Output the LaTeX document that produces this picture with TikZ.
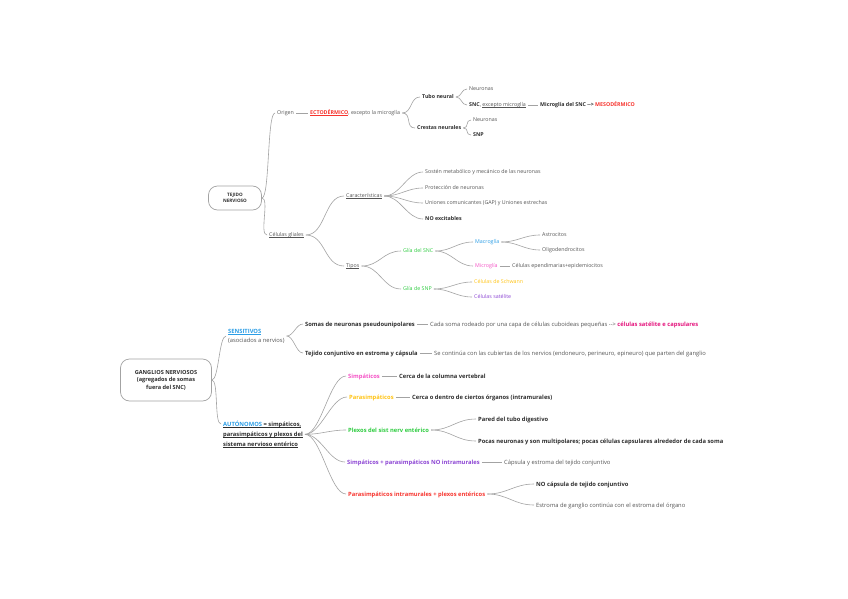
\documentclass[tikz,border=0pt]{standalone}
\usepackage{fontspec}
\setmainfont{Open Sans}
\usetikzlibrary{positioning}
\definecolor{Muted}{HTML}{A3A3A3}
\definecolor{Ink}{HTML}{2E2E2E}
\definecolor{Soft}{HTML}{555555}
\definecolor{Red}{HTML}{F7352F}
\definecolor{Blue}{HTML}{2A9DE6}
\definecolor{Pink}{HTML}{F552C6}
\definecolor{Yellow}{HTML}{FFC414}
\definecolor{Green}{HTML}{2ECC40}
\definecolor{Purple}{HTML}{8C45D4}
\definecolor{Magenta}{HTML}{E5177E}
\newcommand{\lined}[1]{\leavevmode\setbox0\hbox{#1}\rlap{\rule[-0.9pt]{\wd0}{0.35pt}}\box0}

\begin{document}
\begin{tikzpicture}[
  x=1pt,y=-1pt,
  root/.style={draw=Muted,line width=0.7pt,rounded corners=9pt,align=center,text=Ink,font=\bfseries\fontsize{4.6}{6}\selectfont},
  item/.style={anchor=west,inner sep=2pt,text height=4pt,text depth=0.3pt,text=Soft,font=\fontsize{5.3}{6}\selectfont},
  itemb/.style={item,text=Ink,font=\bfseries\fontsize{5.3}{6}\selectfont},
  big/.style={anchor=west,inner sep=2pt,text height=4.3pt,text depth=0.3pt,text=Soft,font=\fontsize{5.8}{9}\selectfont},
  bigb/.style={big,text=Ink,font=\bfseries\fontsize{5.8}{10}\selectfont},
  link/.style={draw=Muted,line width=0.6pt},
  fan/.style={link,out=0,in=180,distance=#1},
  fan/.default=10pt
]
\fill[white] (0,0) rectangle (848,599);

% tejido nervioso
\node[root,minimum width=53,minimum height=24] (tejido) at (235,198) {TEJIDO\\NERVIOSO};
\node[item] (origen) at (275,113) {Origen};
\node[item] (ecto) at (308,113) {\textcolor{Red}{\bfseries\lined{ECTODÉRMICO}}, excepto la microglía};
\node[itemb] (tubo) at (420,97) {Tubo neural};
\node[itemb] (crestas) at (415,128) {Crestas neurales};
\node[item] (neur1) at (467,89) {Neuronas};
\node[item] (snc) at (467,105) {{\bfseries\color{Ink}SNC}, \lined{excepto microglía}};
\node[itemb] (meso) at (538,105) {Microglía del SNC {-}{-}> \textcolor{Red}{MESODÉRMICO}};
\node[item] (neur2) at (471,120) {Neuronas};
\node[itemb] (snp) at (471,135) {SNP};

\node[item] (gliales) at (267,235) {\lined{Células gliales}};
\node[item] (caract) at (344,196) {\lined{Características}};
\node[item] (tipos) at (344,266) {\lined{Tipos}};
\node[item] (sosten) at (423,172) {Sostén metabólico y mecánico de las neuronas};
\node[item] (protec) at (423,188) {Protección de neuronas};
\node[item] (uniones) at (423,203) {Uniones comunicantes (GAP) y Uniones estrechas};
\node[itemb] (noexc) at (423,219) {NO excitables};
\node[item,text=Green] (gliasnc) at (401,251) {Glía del SNC};
\node[item,text=Green] (gliasnp) at (401,289) {Glía de SNP};
\node[item,text=Blue] (macro) at (473,242) {Macroglía};
\node[item,text=Pink] (micro) at (473,266) {Microglía};
\node[item] (astro) at (540,235) {Astrocitos};
\node[item] (oligo) at (540,250) {Oligodendrocitos};
\node[item] (epend) at (510,266) {Células ependimarias+epidemiocitos};
\node[item,text=Yellow] (schwann) at (472,282) {Células de Schwann};
\node[item,text=Purple] (satel) at (472,297) {Células satélite};

\draw[fan=8pt] (tejido.east) to (origen.west);
\draw[fan=8pt] (tejido.east) to (gliales.west);
\draw[link] (origen) -- (ecto);
\draw[fan] (ecto.east) to (tubo.west);
\draw[fan] (ecto.east) to (crestas.west);
\draw[fan=6pt] (tubo.east) to (neur1.west);
\draw[fan=6pt] (tubo.east) to (snc.west);
\draw[link] (snc) -- (meso);
\draw[fan=6pt] (crestas.east) to (neur2.west);
\draw[fan=6pt] (crestas.east) to (snp.west);
\draw[fan=20pt] (gliales.east) to (caract.west);
\draw[fan=20pt] (gliales.east) to (tipos.west);
\foreach \leaf in {sosten,protec,uniones,noexc}
  \draw[fan=16pt] (caract.east) to (\leaf.west);
\draw[fan=18pt] (tipos.east) to (gliasnc.west);
\draw[fan=18pt] (tipos.east) to (gliasnp.west);
\draw[fan=16pt] (gliasnc.east) to (macro.west);
\draw[fan=16pt] (gliasnc.east) to (micro.west);
\draw[fan=16pt] (macro.east) to (astro.west);
\draw[fan=16pt] (macro.east) to (oligo.west);
\draw[link] (micro) -- (epend);
\draw[fan=16pt] (gliasnp.east) to (schwann.west);
\draw[fan=16pt] (gliasnp.east) to (satel.west);

% ganglios nerviosos
\node[root,minimum width=91,minimum height=42,font=\bfseries\fontsize{5.6}{7.5}\selectfont] (ganglios) at (166,380) {GANGLIOS NERVIOSOS\\(agregados de somas\\fuera del SNC)};
\node[big,align=left,text height=,text depth=] (sensit) at (226,336) {\textcolor{Blue}{\bfseries\lined{SENSITIVOS}}\\(asociados a nervios)};
\node[bigb,align=left,anchor=north west,text height=,text depth=] (auto) at (221,419) {\lined{\textcolor{Blue}{AUTÓNOMOS} = simpáticos,}\\\lined{parasimpáticos y plexos del}\\\lined{sistema nervioso entérico}};
\node[bigb] (somas) at (303,324) {Somas de neuronas pseudounipolares};
\node[bigb] (tejcon) at (303,353) {Tejido conjuntivo en estroma y cápsula};
\node[big] (cada) at (428,324) {Cada soma rodeado por una capa de células cuboideas pequeñas {-}{-}> \textcolor{Magenta}{\bfseries células satélite e capsulares}};
\node[big] (secont) at (432,353) {Se continúa con las cubiertas de los nervios (endoneuro, perineuro, epineuro) que parten del ganglio};
\node[bigb,text=Pink] (simp) at (346,376) {Simpáticos};
\node[bigb] (cercacol) at (397,376) {Cerca de la columna vertebral};
\node[bigb,text=Yellow] (parasim) at (347,397) {Parasimpáticos};
\node[bigb] (cercaorg) at (410,397) {Cerca o dentro de ciertos órganos (intramurales)};
\node[bigb,text=Green] (plexos) at (346,430) {Plexos del sist nerv entérico};
\node[bigb] (pared) at (476,419) {Pared del tubo digestivo};
\node[bigb] (pocas) at (476,441) {Pocas neuronas y son multipolares; pocas células capsulares alrededor de cada soma};
\node[bigb,text=Purple] (nointra) at (345,462) {Simpáticos + parasimpáticos NO intramurales};
\node[big] (capsula) at (502,462) {Cápsula y estroma del tejido conjuntivo};
\node[bigb,text=Red] (intram) at (346,494) {Parasimpáticos intramurales + plexos entéricos};
\node[bigb] (nocaps) at (534,484) {NO cápsula de tejido conjuntivo};
\node[big] (estroma) at (534,505) {Estroma de ganglio continúa con el estroma del órgano};

\draw[fan=7pt] (ganglios.east) to (sensit.west);
\draw[fan=7pt] (ganglios.east) to ([yshift=-5pt]auto.north west);
\draw[fan=7pt] (sensit.east) to (somas.west);
\draw[fan=7pt] (sensit.east) to (tejcon.west);
\draw[link] (somas) -- (cada);
\draw[link] (tejcon) -- (secont);
\foreach \leaf in {simp,parasim,plexos,nointra,intram}
  \draw[fan=16pt] (auto.east) to (\leaf.west);
\draw[link] (simp) -- (cercacol);
\draw[link] (parasim) -- (cercaorg);
\draw[fan=20pt] (plexos.east) to (pared.west);
\draw[fan=20pt] (plexos.east) to (pocas.west);
\draw[link] (nointra) -- (capsula);
\draw[fan=20pt] (intram.east) to (nocaps.west);
\draw[fan=20pt] (intram.east) to (estroma.west);
\end{tikzpicture}
\end{document}
